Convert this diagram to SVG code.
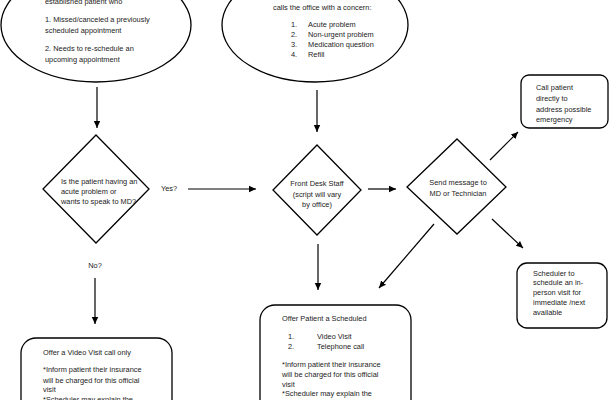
<svg xmlns="http://www.w3.org/2000/svg" width="610" height="400" viewBox="0 0 610 400">
<defs>
<style>
.s{fill:#fff;stroke:#000;stroke-width:1.3}
.t{font-family:"Liberation Sans",Arial,sans-serif;font-size:7.4px;fill:#222}
.c{stroke:#000;stroke-width:1.2;fill:none}
</style>
<marker id="a" markerWidth="8" markerHeight="8" refX="7" refY="4" orient="auto" markerUnits="userSpaceOnUse">
<path d="M0,0.8 L7,4 L0,7.2 Z" fill="#000"/>
</marker>
</defs>
<rect width="610" height="400" fill="#fff"/>
<g id="connectors">
<line class="c" x1="97" y1="87" x2="97" y2="128" marker-end="url(#a)"/>
<line class="c" x1="317" y1="90" x2="317" y2="132" marker-end="url(#a)"/>
<line class="c" x1="188" y1="189" x2="256" y2="189" marker-end="url(#a)"/>
<line class="c" x1="368" y1="189" x2="396" y2="189" marker-end="url(#a)"/>
<line class="c" x1="490" y1="160" x2="518" y2="132" marker-end="url(#a)"/>
<line class="c" x1="492" y1="219" x2="523" y2="248" marker-end="url(#a)"/>
<line class="c" x1="434" y1="224" x2="379" y2="288" marker-end="url(#a)"/>
<line class="c" x1="318" y1="244" x2="318" y2="290" marker-end="url(#a)"/>
<line class="c" x1="95" y1="278" x2="95" y2="324" marker-end="url(#a)"/>
<text class="t" x="161" y="190.5">Yes?</text>
<text class="t" x="95" y="268" text-anchor="middle">No?</text>
</g>
<g id="n-established">
<ellipse class="s" cx="96" cy="25" rx="95" ry="57"/>
<text class="t" x="45" y="4">established patient who</text>
<text class="t" x="45" y="21.5">1. Missed/canceled a previously</text>
<text class="t" x="45" y="32.5">scheduled appointment</text>
<text class="t" x="45" y="50.5">2. Needs to re-schedule an</text>
<text class="t" x="45" y="61.5">upcoming appointment</text>
</g>
<g id="n-calls">
<ellipse class="s" cx="315" cy="25" rx="93" ry="57"/>
<text class="t" x="273" y="9.5">calls the office with a concern:</text>
<text class="t" x="291" y="26.5">1.</text><text class="t" x="308" y="26.5">Acute problem</text>
<text class="t" x="291" y="36.5">2.</text><text class="t" x="308" y="36.5">Non-urgent problem</text>
<text class="t" x="291" y="46.5">3.</text><text class="t" x="308" y="46.5">Medication question</text>
<text class="t" x="291" y="56.5">4.</text><text class="t" x="308" y="56.5">Refill</text>
</g>
<g id="n-acute">
<polygon class="s" points="96,135 149,189 96,243 43,189"/>
<text class="t" x="61" y="183.5">Is the patient having an</text>
<text class="t" x="61" y="193.5">acute problem or</text>
<text class="t" x="61" y="203.5">wants to speak to MD?</text>
</g>
<g id="n-frontdesk">
<polygon class="s" points="317,145 361,190 317,235 273,190"/>
<text class="t" x="317" y="186" text-anchor="middle">Front Desk Staff</text>
<text class="t" x="317" y="197" text-anchor="middle">(script will vary</text>
<text class="t" x="317" y="207" text-anchor="middle">by office)</text>
</g>
<g id="n-send">
<polygon class="s" points="457,139 506,187 457,234 407,187"/>
<text class="t" x="458" y="185" text-anchor="middle">Send message to</text>
<text class="t" x="458" y="196" text-anchor="middle">MD or Technician</text>
</g>
<g id="n-call">
<rect class="s" x="521" y="75" width="87" height="53" rx="8"/>
<text class="t" x="536" y="90">Call patient</text>
<text class="t" x="536" y="101">directly to</text>
<text class="t" x="536" y="112">address possible</text>
<text class="t" x="536" y="122">emergency</text>
</g>
<g id="n-scheduler">
<rect class="s" x="517" y="263" width="90" height="65" rx="10"/>
<text class="t" x="533" y="275.5">Scheduler to</text>
<text class="t" x="533" y="285">schedule an in-</text>
<text class="t" x="533" y="295">person visit for</text>
<text class="t" x="533" y="305">immediate /next</text>
<text class="t" x="533" y="315">available</text>
</g>
<g id="n-offer">
<rect class="s" x="260" y="305" width="151" height="130" rx="15"/>
<text class="t" x="282" y="320.5">Offer Patient a Scheduled</text>
<text class="t" x="288" y="338.5">1.</text><text class="t" x="317" y="338.5">Video Visit</text>
<text class="t" x="288" y="348.5">2.</text><text class="t" x="317" y="348.5">Telephone call</text>
<text class="t" x="282" y="366.5">*Inform patient their insurance</text>
<text class="t" x="282" y="376.5">will be charged for this official</text>
<text class="t" x="282" y="386.5">visit</text>
<text class="t" x="282" y="396">*Scheduler may explain the</text>
</g>
<g id="n-video">
<rect class="s" x="21" y="338" width="151" height="110" rx="15"/>
<text class="t" x="43" y="354.5">Offer a Video Visit call only</text>
<text class="t" x="43" y="372">*Inform patient their insurance</text>
<text class="t" x="43" y="382.5">will be charged for this official</text>
<text class="t" x="43" y="392">visit</text>
<text class="t" x="43" y="401.5">*Scheduler may explain the</text>
</g>
</svg>
